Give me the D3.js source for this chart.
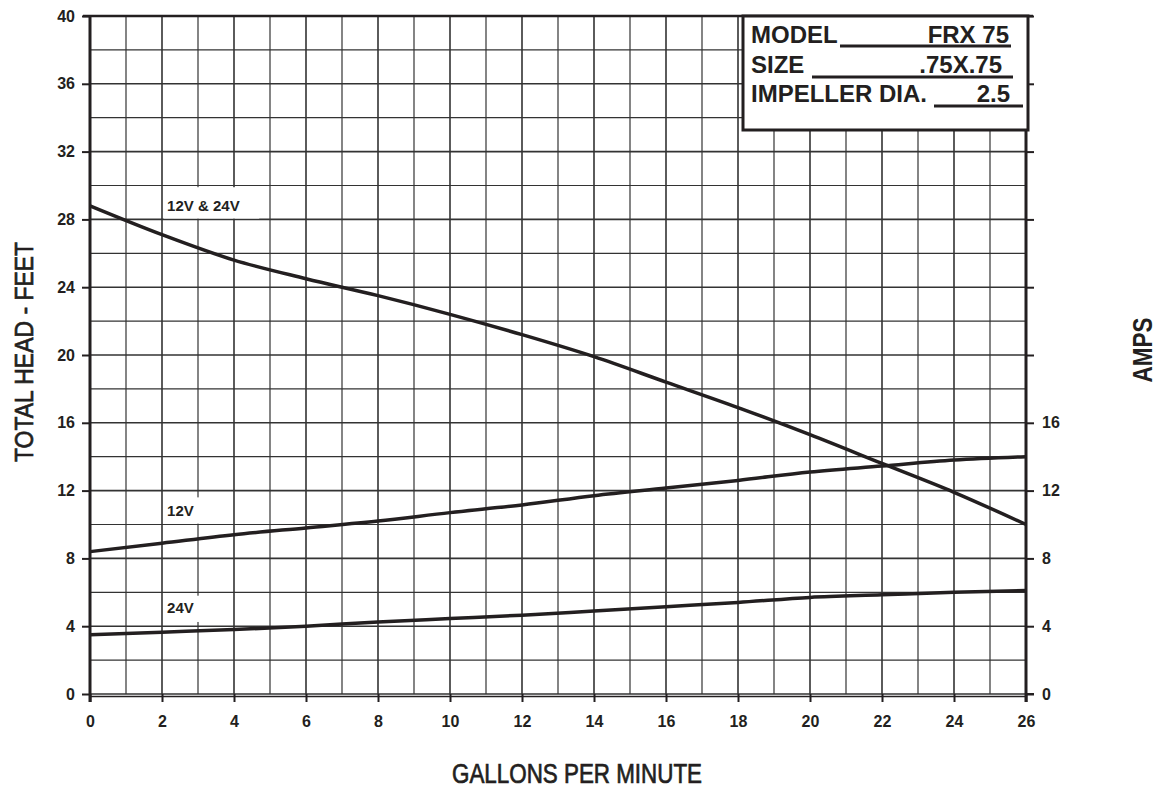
<!DOCTYPE html>
<html><head><meta charset="utf-8">
<script src="https://cdn.jsdelivr.net/npm/d3@7"></script>
<style>
html,body{margin:0;padding:0;background:#fff;}
svg text{font-family:"Liberation Sans",Arial,Helvetica,sans-serif;fill:#231f20;}
</style></head>
<body>
<svg id="c" width="1161" height="788"></svg>
<script>
// ---- data ----
const gpm = [0,2,4,6,8,10,12,14,16,18,20,22,24,26];
const headFeet = [28.8,27.1,25.6,24.5,23.5,22.4,21.2,19.9,18.4,16.9,15.3,13.6,11.9,10.0];
const amps12V = [8.4,8.9,9.4,9.8,10.2,10.7,11.15,11.7,12.15,12.6,13.1,13.45,13.8,14.0];
const amps24V = [3.5,3.65,3.8,4.0,4.25,4.45,4.65,4.9,5.15,5.4,5.7,5.85,6.0,6.1];
const xTicks = [0,2,4,6,8,10,12,14,16,18,20,22,24,26];
const headTicks = [0,4,8,12,16,20,24,28,32,36,40];
const ampTickMarks = [0,4,8,12,16,20,24,28,32,36,40];
const ampTickLabels = [0,4,8,12,16];
const curveLabels = [
  {text:"12V & 24V", gx:2.1, v:28.5, bx0:2.05, bx1:4.7, bv0:28.05, bv1:29.9},
  {text:"12V", gx:2.1, v:10.5, bx0:2.05, bx1:3.05, bv0:10.05, bv1:11.6},
  {text:"24V", gx:2.1, v:4.75, bx0:2.05, bx1:3.05, bv0:4.25, bv1:5.8}
];
const infoRows = [
  {label:"MODEL", value:"FRX 75"},
  {label:"SIZE", value:".75X.75"},
  {label:"IMPELLER DIA.", value:"2.5"}
];

const svg = d3.select("#c");
const x = d3.scaleLinear().domain([0,26]).range([90,1026]);
const y = d3.scaleLinear().domain([0,40]).range([694,16]);
const ink = "#231f20";

// grid
const g = svg.append("g");
d3.range(1,26).forEach(v=>{
  g.append("line").attr("x1",x(v)).attr("x2",x(v)).attr("y1",y(0)).attr("y2",y(40))
   .attr("stroke","#333").attr("stroke-width", v%2===0?1.6:1.2);
});
d3.range(0,40,2).forEach(v=>{
  g.append("line").attr("x1",x(0)).attr("x2",x(26)).attr("y1",y(v)).attr("y2",y(v))
   .attr("stroke","#333").attr("stroke-width", v%4===0?1.6:1.2);
});

// curve label backgrounds
curveLabels.forEach(l=>{
  svg.append("rect").attr("x",x(l.bx0)).attr("width",x(l.bx1)-x(l.bx0))
    .attr("y",y(l.bv1)).attr("height",y(l.bv0)-y(l.bv1)).attr("fill","#fff");
});

// axes
function styleAxis(sel){
  sel.selectAll("text").style("font-size","16px").style("font-weight","bold").attr("fill",ink);
  sel.selectAll(".tick line").attr("stroke",ink).attr("stroke-width",2);
}
const left = svg.append("g").attr("transform",`translate(${x(0)},0)`)
  .call(d3.axisLeft(y).tickValues(headTicks).tickSize(8).tickPadding(7).tickFormat(d3.format("d")));
left.select(".domain").remove();
styleAxis(left);

const rightTicks = svg.append("g").attr("transform",`translate(${x(26)},0)`)
  .call(d3.axisRight(y).tickValues(ampTickMarks).tickSize(8).tickFormat(d=> ampTickLabels.includes(d)? d : "").tickPadding(8));
rightTicks.select(".domain").remove();
styleAxis(rightTicks);

const bottom = svg.append("g").attr("transform",`translate(0,${y(0)})`)
  .call(d3.axisBottom(x).tickValues(xTicks).tickSize(8).tickPadding(14).tickFormat(d3.format("d")));
bottom.select(".domain").remove();
styleAxis(bottom);

// frame
svg.append("line").attr("x1",x(0)).attr("x2",x(0)).attr("y1",y(40)-1).attr("y2",y(0)+8).attr("stroke",ink).attr("stroke-width",3);
svg.append("line").attr("x1",x(26)).attr("x2",x(26)).attr("y1",y(40)-1).attr("y2",y(0)+8).attr("stroke",ink).attr("stroke-width",3);
svg.append("line").attr("x1",x(0)-7).attr("x2",x(26)+7).attr("y1",y(40)).attr("y2",y(40)).attr("stroke",ink).attr("stroke-width",2.5);
svg.append("line").attr("x1",x(0)).attr("x2",x(26)).attr("y1",y(0)+2.5).attr("y2",y(0)+2.5).attr("stroke",ink).attr("stroke-width",1.5);
svg.append("line").attr("x1",x(26)).attr("x2",x(26)+8).attr("y1",y(0)).attr("y2",y(0)).attr("stroke",ink).attr("stroke-width",2);

// curves
const line = d3.line().x((d,i)=>x(gpm[i])).y(d=>y(d)).curve(d3.curveMonotoneX);
[headFeet, amps12V, amps24V].forEach(s=>{
  svg.append("path").attr("d",line(s)).attr("fill","none").attr("stroke",ink).attr("stroke-width",3.5);
});

// curve labels
curveLabels.forEach(l=>{
  svg.append("text").attr("x",x(l.gx)+1.5).attr("y",y(l.v))
    .style("font-size","15px").style("font-weight","bold").text(l.text);
});

// info box
const bx0 = 743, bx1 = 1028, by0 = 16, by1 = 130;
svg.append("rect").attr("x",bx0).attr("y",by0).attr("width",bx1-bx0).attr("height",by1-by0)
  .attr("fill","#fff").attr("stroke",ink).attr("stroke-width",3);
const rowBase = [43,73,102];
const ulines = [[840,1011,46],[812,1013,77],[934,1023,106]];
const valEnd = [1009,1002,1010];
infoRows.forEach((r,i)=>{
  svg.append("text").attr("x",751).attr("y",rowBase[i]).style("font-size","24px").style("font-weight","bold").text(r.label);
  svg.append("text").attr("x",valEnd[i]).attr("y",rowBase[i]).attr("text-anchor","end").style("font-size","24px").style("font-weight","bold").text(r.value);
  svg.append("line").attr("x1",ulines[i][0]).attr("x2",ulines[i][1]).attr("y1",ulines[i][2]).attr("y2",ulines[i][2]).attr("stroke",ink).attr("stroke-width",3);
});

// axis titles
svg.append("text").attr("transform","translate(33,352) rotate(-90)").attr("text-anchor","middle")
  .attr("textLength",220).attr("lengthAdjust","spacingAndGlyphs")
  .attr("stroke",ink).attr("stroke-width",0.7)
  .style("font-size","26px").text("TOTAL HEAD - FEET");
svg.append("text").attr("x",577).attr("y",783).attr("text-anchor","middle")
  .attr("textLength",250).attr("lengthAdjust","spacingAndGlyphs")
  .attr("stroke",ink).attr("stroke-width",0.7)
  .style("font-size","27px").text("GALLONS PER MINUTE");
svg.append("text").attr("transform","translate(1152,350) rotate(-90)").attr("text-anchor","middle")
  .attr("textLength",65).attr("lengthAdjust","spacingAndGlyphs")
  .style("font-size","27px").style("font-weight","bold").text("AMPS");
</script>
</body></html>
